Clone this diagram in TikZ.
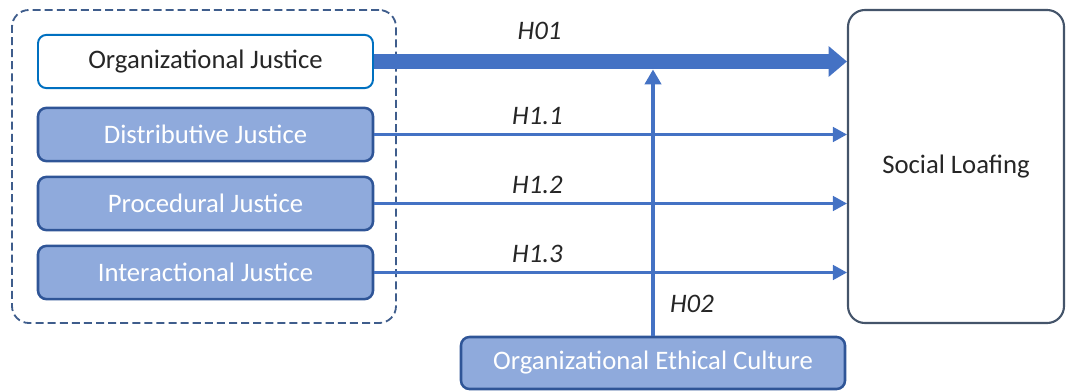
\documentclass[tikz,border=0pt]{standalone}
\usepackage{fontspec}
\setmainfont{Carlito}
\usetikzlibrary{
  positioning,
  arrows.meta,
  backgrounds
}

\definecolor{orgedge}{HTML}{0070C0}
\definecolor{dimedge}{HTML}{2F5597}
\definecolor{dimfill}{HTML}{8FAADC}
\definecolor{slate}{HTML}{44546A}
\definecolor{grpedge}{HTML}{3F5D8C}
\definecolor{linkblue}{HTML}{4472C4}
\definecolor{darktext}{HTML}{262626}

\begin{document}
\begin{tikzpicture}[
    font=\fontsize{19}{23}\selectfont,
    % Standard box styles
    box/.style={
        rectangle, rounded corners=6pt, align=center,
        minimum width=8.375cm, minimum height=1.33cm, inner sep=0pt
    },
    main/.style={box, draw=orgedge, line width=1.4pt, fill=white, text=darktext},
    dim/.style={box, draw=dimedge, line width=1.8pt, fill=dimfill, text=white},
    outcome/.style={box, draw=slate, line width=1.5pt, fill=white, text=darktext,
        rounded corners=12pt, minimum width=5.4cm, minimum height=7.825cm},
    % Grouping box style
    grp/.style={
        rectangle, draw=grpedge, line width=1.3pt, dash pattern=on 5.7pt off 2.9pt,
        rounded corners=12pt, minimum width=9.6cm, minimum height=7.825cm
    },
    % Arrow styles
    arr/.style={-{Triangle[length=10pt, width=10.5pt]}, line width=1.8pt, draw=linkblue},
    bigarr/.style={-{Triangle[length=13pt, width=21pt]}, line width=11.3pt, draw=linkblue},
    modarr/.style={-{Triangle[length=10.5pt, width=11.5pt]}, line width=2.3pt, draw=linkblue},
    lbl/.style={font=\fontsize{19}{23}\selectfont\itshape, text=darktext, inner sep=2pt}
]
\useasboundingbox (0,0) rectangle (26.65,9.75);

% ==========================================
% NODES & PLACEMENT
% ==========================================

% --- Justice dimensions (left) ---
\node[main] (oj) at (5.1375, 8.2125) {Organizational Justice};
\node[dim] (dj) at (5.1375, 6.3875) {Distributive Justice};
\node[dim] (pj) at (5.1375, 4.6625) {Procedural Justice};
\node[dim] (ij) at (5.1375, 2.9375) {Interactional Justice};

% --- Outcome (right) ---
\node[outcome] (sl) at (23.9, 5.5875) {Social Loafing};

% --- Moderator (bottom) ---
\node[dim, minimum width=9.6cm, minimum height=1.3cm] (oec) at (16.325, 0.675) {Organizational Ethical Culture};

% ==========================================
% BACKGROUND GROUPING
% ==========================================
\begin{scope}[on background layer]
    \node[grp] (jgrp) at (5.1, 5.5875) {};
\end{scope}

% ==========================================
% ROUTING & ARROWS
% ==========================================

% 1. Main effect
\draw[bigarr] (oj.east) -- (oj.east -| sl.west)
    node[lbl, pos=0.35, above=8pt] {H01};

% 2. Dimension effects
\draw[arr] (dj.east) -- (dj.east -| sl.west)
    node[lbl, pos=0.345, above=4pt] {H1.1};
\draw[arr] (pj.east) -- (pj.east -| sl.west)
    node[lbl, pos=0.345, above=4pt] {H1.2};
\draw[arr] (ij.east) -- (ij.east -| sl.west)
    node[lbl, pos=0.345, above=4pt] {H1.3};

% 3. Moderation onto the main effect
\coordinate (hit) at ([yshift=-0.2cm] oec.north |- oj.east);
\draw[modarr] (oec.north) -- (hit)
    node[lbl, pos=0.12, right=9pt] {H02};

\end{tikzpicture}
\end{document}
